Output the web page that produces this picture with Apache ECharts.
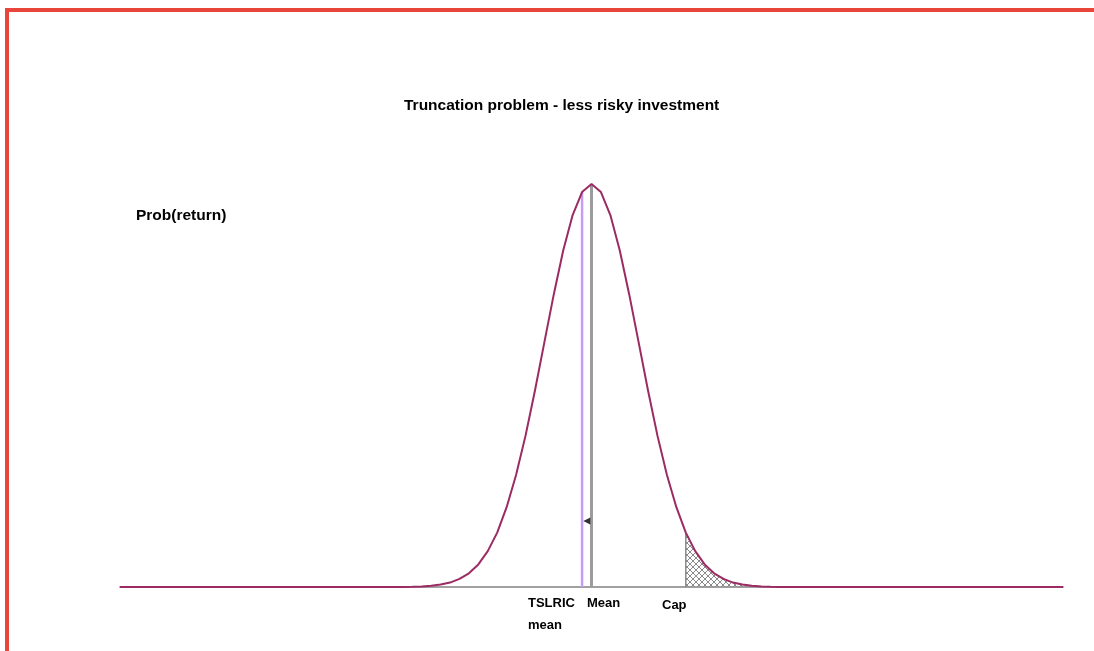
<!DOCTYPE html>
<html lang="en">
<head>
    <meta charset="utf-8">
    <title>Truncation problem</title>
    <script src="https://cdn.jsdelivr.net/npm/echarts@6/dist/echarts.min.js"></script>
    <style>
        body { margin: 0; background: #fff; }
        #frame { position: absolute; left: 5px; top: 8px; width: 1089px; height: 643px;
                 border-top: 4px solid #e8463b; border-left: 4px solid #e8463b; box-sizing: border-box; }
        #main { position: absolute; left: 0; top: 0; width: 1094px; height: 651px; }
    </style>
</head>
<body>
<div id="frame"></div>
<div id="main"></div>

<script type="text/javascript">
    // return values (x) and relative probability (y) of the curve
    const curveX = [0, 6.0, 6.2, 6.4, 6.6, 6.8, 7.0, 7.2, 7.4, 7.6, 7.8, 8.0, 8.2, 8.4, 8.6, 8.8,
        9.0, 9.2, 9.4, 9.6, 9.8, 10.0, 10.2, 10.4, 10.6, 10.8, 11.0, 11.2, 11.4, 11.6, 11.8,
        12.0, 12.2, 12.4, 12.6, 12.8, 13.0, 13.2, 13.4, 13.6, 13.8, 14.0, 20];
    const curveY = [0, 0.0003, 0.0007, 0.0015, 0.003, 0.006, 0.011, 0.020, 0.034, 0.056, 0.089,
        0.135, 0.198, 0.278, 0.375, 0.487, 0.607, 0.726, 0.835, 0.923, 0.980, 1.000,
        0.980, 0.923, 0.835, 0.726, 0.607, 0.487, 0.375, 0.278, 0.198,
        0.135, 0.089, 0.056, 0.034, 0.020, 0.011, 0.006, 0.003, 0.0015, 0.0007, 0.0003, 0];

    const tslricMean = 9.8;
    const mean = 10;
    const cap = 12;
    const hatchEnd = 16;
    const arrowPoint = [9.9, 0.164];

    const labels = [
        { text: 'TSLRIC', x: 528, y: 603 },
        { text: 'mean', x: 528, y: 625 },
        { text: 'Mean', x: 587, y: 603 },
        { text: 'Cap', x: 662, y: 605 }
    ];

    function hatchPattern() {
        const c = document.createElement('canvas');
        c.width = 6; c.height = 6;
        const ctx = c.getContext('2d');
        ctx.strokeStyle = '#8a8a8a';
        ctx.lineWidth = 1;
        ctx.beginPath();
        ctx.moveTo(0, 0); ctx.lineTo(6, 6);
        ctx.moveTo(6, 0); ctx.lineTo(0, 6);
        ctx.stroke();
        return c;
    }

    const curve = curveX.map((x, i) => [x, curveY[i]]);
    let hatch = curve.filter(p => p[0] >= cap && p[0] <= 14);
    hatch.push([hatchEnd, 0]);
    const capTop = curveY[curveX.indexOf(cap)];
    const tslricTop = curveY[curveX.indexOf(tslricMean)];
    const meanTop = curveY[curveX.indexOf(mean)];

    const myChart = echarts.init(document.getElementById('main'));
    const bold = 'bold 13px "Liberation Sans", Arial, sans-serif';
    const boldBig = 'bold 15.5px "Liberation Sans", Arial, sans-serif';
    const option = {
        animation: false,
        title: {
            text: 'Truncation problem - less risky investment',
            left: 399,
            top: 93,
            textStyle: { fontFamily: '"Liberation Sans", Arial, sans-serif', fontSize: 15.5, fontWeight: 'bold', color: '#000' }
        },
        grid: { left: 120, right: 31, top: 184, bottom: 64 },
        xAxis: {
            type: 'value', min: 0, max: 20,
            axisLine: { show: true, onZero: true, lineStyle: { color: '#a0a0a0', width: 2 } },
            axisTick: { show: false }, axisLabel: { show: false }, splitLine: { show: false }
        },
        yAxis: {
            type: 'value', min: 0, max: 1, show: false
        },
        graphic: [{
            type: 'text', x: 136, y: 216,
            style: { text: 'Prob(return)', font: boldBig, fill: '#000', verticalAlign: 'middle' }
        }].concat(labels.map(l => ({
            type: 'text', x: l.x, y: l.y,
            style: { text: l.text, font: bold, fill: '#000', verticalAlign: 'middle' }
        }))),
        series: [
            {
                type: 'line', data: hatch, showSymbol: false, z: 1,
                lineStyle: { width: 1, color: '#555', type: 'dotted' },
                areaStyle: { color: { image: hatchPattern(), repeat: 'repeat' }, opacity: 1 }
            },
            {
                type: 'line', data: [[cap, 0], [cap, capTop]], showSymbol: false, z: 2,
                lineStyle: { width: 1.5, color: '#8a8a8a' }
            },
            {
                type: 'line', data: [[tslricMean, 0], [tslricMean, tslricTop]], showSymbol: false, z: 3,
                lineStyle: { width: 2.5, color: '#c59cf7' }
            },
            {
                type: 'line', data: [[mean, 0], [mean, meanTop]], showSymbol: false, z: 3,
                lineStyle: { width: 3, color: '#9c9c9c' }
            },
            {
                type: 'line', data: curve, showSymbol: false, z: 5,
                lineStyle: { width: 2, color: '#9b2b62' }
            },
            {
                type: 'scatter', data: [arrowPoint], symbol: 'triangle', symbolSize: 7,
                symbolRotate: 90, z: 6, itemStyle: { color: '#000' }
            }
        ]
    };
    myChart.setOption(option);
</script>
</body>
</html>
